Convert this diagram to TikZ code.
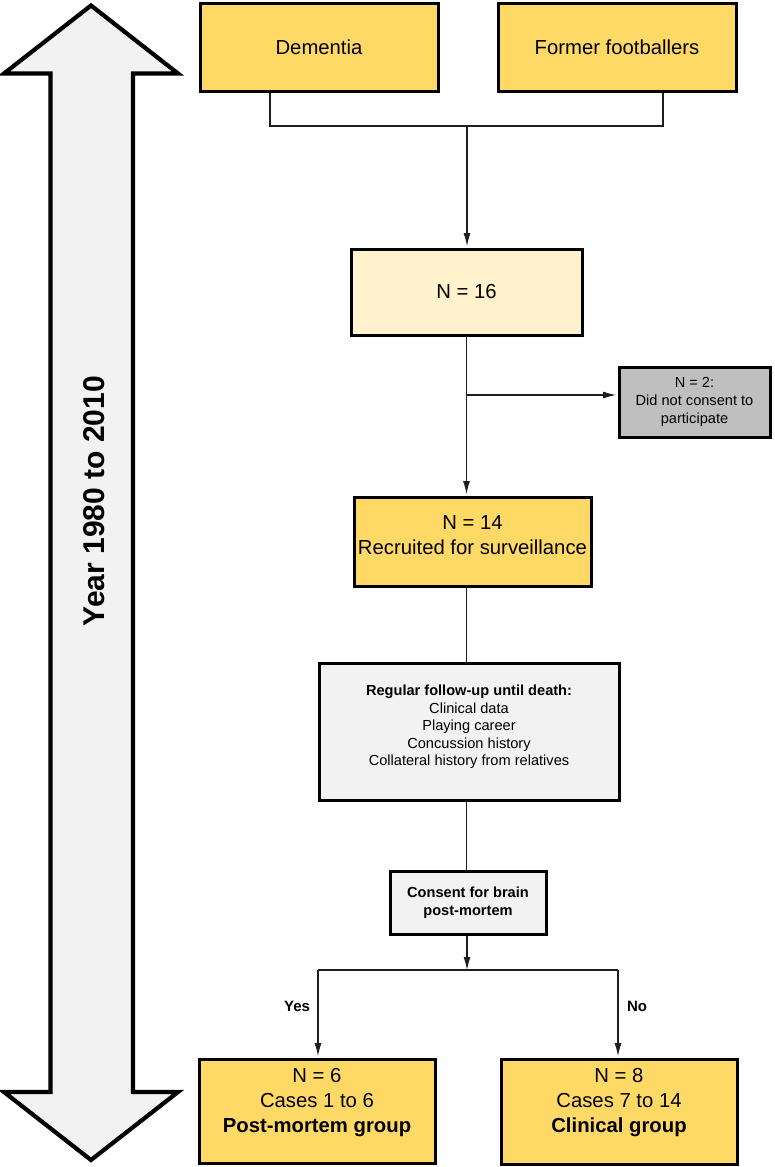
\documentclass[tikz,border=0pt]{standalone}
\usepackage{fontspec}
\setmainfont{Liberation Sans}
\usetikzlibrary{arrows.meta}
\definecolor{gold}{HTML}{FFD966}
\definecolor{paleyellow}{HTML}{FFF2CC}
\definecolor{midgray}{HTML}{BFBFBF}
\definecolor{lightgray}{HTML}{F2F2F2}
\definecolor{linecol}{HTML}{1E1E1E}
\begin{document}
\begin{tikzpicture}[x=1pt,y=-1pt,
  box/.style={draw=black, line width=3pt, inner sep=0pt, align=center},
  big/.style={font=\fontsize{20.3}{25}\selectfont},
  small/.style={font=\fontsize{14.6}{17.6}\selectfont},
  txt/.style={inner sep=0pt, align=center},
  conn/.style={draw=linecol, line width=1.1pt},
  arr/.style={conn, -{Latex[length=13pt,width=7pt]}, shorten >=1.4pt},
  lbl/.style={inner sep=0pt, font=\bfseries\fontsize{15}{18}\selectfont}]
\useasboundingbox (0,0) rectangle (774,1167);
\fill[white] (0,0) rectangle (774,1167);

% time arrow
\draw[line width=4.2pt, fill=lightgray, miter limit=10]
  (91,5.5) -- (178,73.5) -- (133,73.5) -- (133,1092) -- (178,1092) -- (91,1160)
  -- (4,1092) -- (50.5,1092) -- (50.5,73.5) -- (4,73.5) -- cycle;
\node[rotate=90, inner sep=0pt, font=\bfseries\fontsize{30}{36}\selectfont] (yr) at (94,501) {Year 1980 to 2010};

% boxes
\node[box, big, fill=gold, minimum width=238pt, minimum height=88pt] (dem) at (319,47) {Dementia};
\node[box, big, fill=gold, minimum width=238pt, minimum height=88pt] (ff) at (617,47) {Former footballers};
\node[box, big, fill=paleyellow, minimum width=231pt, minimum height=86pt] (n16) at (466.5,292) {N = 16};
\node[box, small, fill=midgray, minimum width=151pt, minimum height=70pt] (gray) at (694.5,402) {N = 2:\\Did not consent to\\participate};
\node[box, fill=gold, minimum width=237pt, minimum height=89pt] (n14) at (472.5,541.5) {};
\node[txt, big] (n14t) at (472.5,535.5) {N = 14\\Recruited for surveillance};
\node[box, fill=lightgray, minimum width=300pt, minimum height=137pt] (fol) at (469,731.5) {};
\node[txt, small] (folt) at (469,727) {\textbf{Regular follow-up until death:}\\Clinical data\\Playing career\\Concussion history\\Collateral history from relatives};
\node[box, small, fill=lightgray, minimum width=156pt, minimum height=63pt] (con) at (468,902.5) {\textbf{Consent for brain}\\\textbf{post-mortem}};
\node[box, fill=gold, minimum width=236pt, minimum height=104pt] (pm) at (317,1111) {};
\node[txt, big] (pmt) at (317,1103) {N = 6\\Cases 1 to 6\\\textbf{Post-mortem group}};
\node[box, fill=gold, minimum width=236pt, minimum height=105pt] (cl) at (619,1111.5) {};
\node[txt, big] (clt) at (619,1103) {N = 8\\Cases 7 to 14\\\textbf{Clinical group}};

% junction coordinates
\coordinate (j1) at (270,126);
\coordinate (j2) at (663,126);
\coordinate (j0) at (467,126);
\coordinate (b1) at (466.5,395);
\coordinate (b2) at (467,970);
\coordinate (yl) at (318,970);
\coordinate (yr2) at (618,970);

% connectors
\draw[conn] (dem.south -| j1) |- (j2) -- (ff.south -| j2);
\draw[arr] (j0) -- (n16.north -| j0);
\draw[arr] (n16.south -| b1) -- (n14.north -| b1);
\draw[arr] (b1) -- (gray.west |- b1);
\draw[conn] (n14.south -| b1) -- (fol.north -| b1);
\draw[conn] (fol.south -| b1) -- (con.north -| b1);
\draw[arr, shorten >=0pt] (con.south -| b2) -- (b2);
\draw[conn] (yl) -- (yr2);
\draw[arr] (yl) -- (pm.north -| yl);
\draw[arr] (yr2) -- (cl.north -| yr2);

\node[lbl] (yes) at (297,1006) {Yes};
\node[lbl] (no) at (637,1006) {No};
\end{tikzpicture}
\end{document}
